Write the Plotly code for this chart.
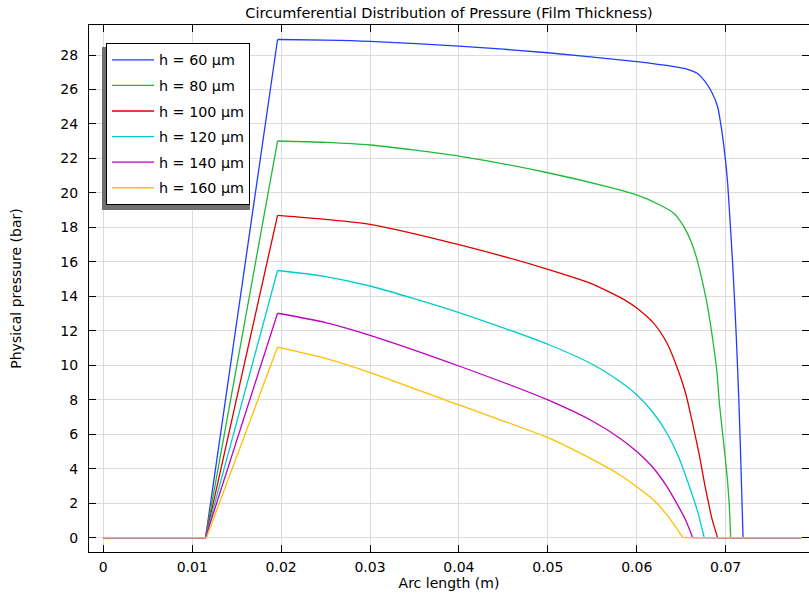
import plotly.graph_objects as go

# ---- data ----
x_h60 = [0, 0.0115, 0.0196, 0.025, 0.03, 0.04, 0.05, 0.06, 0.0642, 0.0657, 0.0668, 0.0677,
         0.0685, 0.0691, 0.0695, 0.0699, 0.0702, 0.07045, 0.07083, 0.0712, 0.0715,
         0.07174, 0.07196, 0.0785]
y_h60 = [0, 0, 28.9, 28.86, 28.79, 28.52, 28.13, 27.61, 27.32, 27.17, 26.94, 26.45,
         25.78, 25.0, 23.84, 22.29, 20.75, 18.8, 15.55, 11.67, 7.8,
         3.93, 0, 0]

x_h80 = [0, 0.0115, 0.0196, 0.025, 0.03, 0.04, 0.05, 0.057, 0.06, 0.0626, 0.0642,
         0.0653, 0.0662, 0.0668, 0.0679, 0.0685, 0.0690, 0.0693, 0.0697, 0.0701,
         0.0704, 0.07057, 0.0785]
y_h80 = [0, 0, 23.01, 22.93, 22.78, 22.14, 21.17, 20.32, 19.88, 19.3, 18.81,
         18.04, 17.07, 16.1, 13.6, 11.67, 9.74, 7.8, 5.87, 3.93,
         1.99, 0, 0]

x_h100 = [0, 0.0115, 0.0196, 0.025, 0.03, 0.04, 0.05, 0.0551, 0.0589, 0.06, 0.0619,
          0.0634, 0.0645, 0.0655, 0.0662, 0.0670, 0.0677, 0.0685, 0.0691, 0.0785]
y_h100 = [0, 0, 18.7, 18.47, 18.18, 17.0, 15.57, 14.7, 13.71, 13.32, 12.45,
          11.29, 9.93, 8.38, 6.83, 4.9, 2.96, 1.03, 0, 0]

x_h120 = [0, 0.0115, 0.0196, 0.025, 0.03, 0.04, 0.05, 0.0551, 0.0581, 0.06, 0.0619,
          0.0634, 0.0647, 0.0658, 0.0668, 0.0676, 0.0785]
y_h120 = [0, 0, 15.5, 15.15, 14.6, 13.06, 11.22, 10.03, 9.06, 8.29, 7.22,
          6.06, 4.7, 3.16, 1.61, 0, 0]

x_h140 = [0, 0.0115, 0.0196, 0.025, 0.03, 0.04, 0.05, 0.0551, 0.0581, 0.06, 0.0619,
          0.0634, 0.0645, 0.0655, 0.0663, 0.0785]
y_h140 = [0, 0, 13.02, 12.48, 11.74, 9.96, 7.99, 6.74, 5.77, 5.0, 4.03,
          2.96, 1.99, 1.03, 0, 0]

x_h160 = [0, 0.0116, 0.0196, 0.025, 0.03, 0.04, 0.05, 0.0551, 0.0581, 0.06, 0.0619,
          0.0634, 0.0645, 0.0652, 0.0785]
y_h160 = [0, 0, 11.06, 10.4, 9.58, 7.7, 5.8, 4.51, 3.64, 2.96, 2.19,
          1.32, 0.54, 0, 0]

series_names = ["h = 60 μm", "h = 80 μm", "h = 100 μm", "h = 120 μm", "h = 140 μm", "h = 160 μm"]
series_x = [x_h60, x_h80, x_h100, x_h120, x_h140, x_h160]
series_y = [y_h60, y_h80, y_h100, y_h120, y_h140, y_h160]
series_colors = ["#1f3dff", "#22b83a", "#e00000", "#00cccc", "#c000c0", "#ffbf00"]

x_ticks = [0, 0.01, 0.02, 0.03, 0.04, 0.05, 0.06, 0.07]
x_tick_labels = ["0", "0.01", "0.02", "0.03", "0.04", "0.05", "0.06", "0.07"]
y_ticks = list(range(0, 29, 2))

FONT = "DejaVu Sans, Verdana, sans-serif"

fig = go.Figure()
for i, (name, xs, ys, c) in enumerate(zip(series_names, series_x, series_y, series_colors)):
    ip = ys.index(max(ys))                                   # peak index
    iz = next(k for k in range(ip + 1, len(ys)) if ys[k] == 0)  # first zero after peak
    line = dict(color=c, width=1.3)
    # linear ramp (flat part + rise), smooth decay, linear flat tail
    fig.add_trace(go.Scatter(x=xs[:ip + 1], y=ys[:ip + 1], mode="lines", name=name,
                             line=line, legendgroup=f"g{i}"))
    fig.add_trace(go.Scatter(x=xs[ip:iz + 1], y=ys[ip:iz + 1], mode="lines", name=name,
                             line=dict(color=c, width=1.3, shape="spline", smoothing=0.7),
                             legendgroup=f"g{i}", showlegend=False))
    fig.add_trace(go.Scatter(x=xs[iz:], y=ys[iz:], mode="lines", name=name,
                             line=line, legendgroup=f"g{i}", showlegend=False))

axis_common = dict(showline=True, linecolor="black", linewidth=1, mirror="ticks",
                   ticks="inside", ticklen=7, tickcolor="black", tickwidth=1,
                   showgrid=True, gridcolor="#dcdcdc", gridwidth=1, zeroline=False,
                   automargin=True,
                   tickfont=dict(family=FONT, size=14, color="black"))

L, R, T, B = 89, 0, 25, 44
PW, PH = 809 - L - R, 596 - T - B

fig.update_layout(
    width=809, height=596,
    margin=dict(l=L, r=R, t=T, b=B, autoexpand=False),
    paper_bgcolor="white", plot_bgcolor="white",
    font=dict(family=FONT, size=14, color="black"),
    title=dict(text="Circumferential Distribution of Pressure (Film Thickness)",
               x=(L + 809 - R) / 2 / 809, xanchor="center", y=1 - 12.5 / 596, yanchor="middle",
               font=dict(family=FONT, size=14.5, color="black")),
    xaxis=dict(range=[-0.00161, 0.07938], tickvals=x_ticks, ticktext=x_tick_labels,
               ticklabelstandoff=2,
               title=dict(text="Arc length (m)", font=dict(family=FONT, size=14), standoff=2),
               **axis_common),
    yaxis=dict(range=[-0.83, 29.74], tickvals=y_ticks, ticklabelstandoff=7,
               title=dict(text="Physical pressure (bar)", font=dict(family=FONT, size=14), standoff=35),
               **axis_common),
    legend=dict(x=(106 - L) / PW, y=1 - (43 - T) / PH, xanchor="left", yanchor="top",
                bgcolor="white", bordercolor="black", borderwidth=1,
                font=dict(family=FONT, size=14.3, color="black"),
                itemwidth=42,
                traceorder="grouped", tracegroupgap=4),
    showlegend=True,
    shapes=[dict(type="rect", xref="paper", yref="paper",
                 x0=(102 - L) / PW, x1=(250 - L) / PW,
                 y0=1 - (210 - T) / PH, y1=1 - (47 - T) / PH,
                 fillcolor="#707070", line=dict(width=0), layer="above")],
)

fig.write_html("out.html", config={"displayModeBar": False},
               post_script="document.body.style.margin='0';")
